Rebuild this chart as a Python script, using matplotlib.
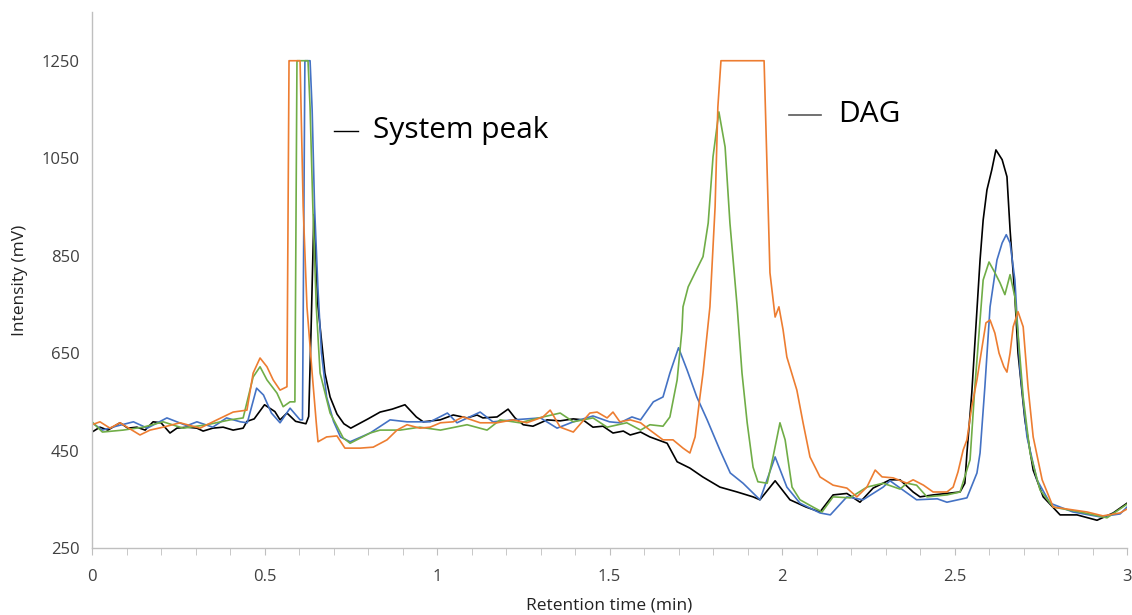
import matplotlib.pyplot as plt
from matplotlib.ticker import MultipleLocator

# Chromatogram traces (retention time in min, intensity in mV)
black_t = [0.00, 0.023, 0.046, 0.081, 0.104, 0.13, 0.154, 0.177, 0.20, 0.226, 0.246, 0.275,
           0.304, 0.322, 0.35, 0.38, 0.409, 0.438, 0.449, 0.47, 0.50, 0.53, 0.545, 0.565,
           0.59, 0.62, 0.628, 0.635, 0.643, 0.655, 0.675, 0.69, 0.71, 0.73, 0.75, 0.80,
           0.835, 0.87, 0.907, 0.94, 0.96, 1.009, 1.047, 1.087, 1.116, 1.133, 1.174, 1.206,
           1.226, 1.25, 1.278, 1.319, 1.357, 1.395, 1.423, 1.452, 1.481, 1.51, 1.54, 1.56,
           1.59, 1.617, 1.667, 1.696, 1.733, 1.77, 1.82, 1.87, 1.916, 1.936, 1.98, 2.023,
           2.07, 2.11, 2.148, 2.188, 2.226, 2.264, 2.313, 2.342, 2.38, 2.40, 2.438, 2.516,
           2.53, 2.536, 2.55, 2.574, 2.583, 2.594, 2.608, 2.62, 2.638, 2.652, 2.661, 2.675,
           2.684, 2.704, 2.728, 2.757, 2.806, 2.855, 2.913, 2.96, 3.00]
black_v = [488, 498, 492, 507, 496, 498, 492, 509, 507, 486, 496, 498,
           496, 490, 496, 498, 492, 496, 510, 515, 544, 530, 513, 527,
           510, 505, 520, 700, 934, 745, 609, 560, 525, 505, 496, 515,
           529, 535, 544, 519, 509, 513, 523, 517, 523, 517, 519, 535,
           517, 503, 500, 513, 511, 515, 513, 498, 500, 486, 490, 482,
           488, 478, 465, 427, 414, 396, 375, 365, 355, 349, 388, 349,
           334, 324, 359, 362, 344, 373, 390, 390, 365, 355, 359, 365,
           383, 445, 568, 841, 923, 985, 1026, 1067, 1047, 1012, 903, 765,
           650, 513, 410, 355, 318, 318, 307, 322, 342]

blue_t = [0.00, 0.03, 0.07, 0.12, 0.16, 0.217, 0.275, 0.304, 0.35, 0.39, 0.43, 0.45, 0.477,
          0.497, 0.52, 0.545, 0.574, 0.603, 0.61, 0.617, 0.62, 0.632, 0.638, 0.645, 0.655,
          0.665, 0.68, 0.70, 0.72, 0.748, 0.806, 0.864, 0.913, 0.95, 0.98, 1.03, 1.058, 1.125,
          1.162, 1.22, 1.30, 1.348, 1.395, 1.452, 1.50, 1.53, 1.565, 1.59, 1.627, 1.655, 1.675,
          1.70, 1.725, 1.753, 1.783, 1.82, 1.85, 1.887, 1.936, 1.98, 2.014, 2.052, 2.11, 2.14,
          2.188, 2.235, 2.293, 2.313, 2.39, 2.45, 2.478, 2.536, 2.565, 2.574, 2.588, 2.603,
          2.623, 2.638, 2.65, 2.661, 2.675, 2.69, 2.71, 2.739, 2.777, 2.843, 2.922, 2.98, 3.00]
blue_v = [507, 492, 500, 509, 496, 517, 501, 509, 498, 517, 509, 507, 578,
          564, 527, 507, 537, 513, 513, 1250, 1250, 1250, 1150, 950, 780,
          650, 560, 510, 478, 468, 486, 513, 509, 509, 509, 527, 507, 529,
          509, 513, 517, 496, 509, 521, 509, 507, 519, 513, 550, 560, 609,
          661, 615, 560, 513, 451, 404, 383, 349, 437, 375, 342, 322, 318,
          355, 349, 375, 388, 349, 351, 344, 353, 404, 445, 581, 745,
          841, 876, 893, 876, 800, 615, 478, 390, 342, 324, 314, 320, 334]

green_t = [0.00, 0.03, 0.09, 0.148, 0.206, 0.264, 0.333, 0.40, 0.438, 0.467, 0.487, 0.507,
           0.536, 0.554, 0.574, 0.588, 0.594, 0.597, 0.626, 0.632, 0.64, 0.65, 0.661, 0.69,
           0.728, 0.748, 0.806, 0.835, 0.893, 0.95, 1.01, 1.087, 1.145, 1.183, 1.24, 1.307,
           1.357, 1.395, 1.452, 1.493, 1.55, 1.59, 1.617, 1.655, 1.675, 1.696, 1.71, 1.713,
           1.728, 1.748, 1.771, 1.786, 1.80, 1.817, 1.835, 1.849, 1.87, 1.884, 1.899, 1.916,
           1.93, 1.957, 1.974, 1.994, 2.009, 2.029, 2.052, 2.09, 2.116, 2.148, 2.197, 2.246,
           2.293, 2.342, 2.362, 2.39, 2.42, 2.478, 2.516, 2.545, 2.559, 2.574, 2.583, 2.60,
           2.617, 2.632, 2.646, 2.661, 2.675, 2.684, 2.699, 2.719, 2.748, 2.786, 2.864, 2.942,
           3.00]
green_v = [509, 488, 492, 498, 509, 496, 503, 513, 517, 601, 622, 595,
           568, 540, 550, 550, 1250, 1250, 1250, 1155, 950, 745, 609, 527,
           476, 465, 486, 492, 492, 498, 492, 503, 492, 513, 507, 519,
           527, 509, 517, 498, 507, 492, 503, 500, 519, 595, 698, 745,
           786, 815, 848, 917, 1053, 1145, 1073, 917, 745, 609, 507, 416,
           386, 383, 437, 507, 472, 375, 349, 334, 324, 355, 353, 375,
           383, 371, 383, 379, 355, 359, 365, 431, 581, 718, 800, 837,
           815, 794, 770, 811, 765, 691, 560, 445, 369, 334, 324, 312,
           340]

orange_t = [0.00, 0.023, 0.052, 0.081, 0.139, 0.168, 0.206, 0.255, 0.313, 0.362, 0.409, 0.449,
            0.467, 0.487, 0.507, 0.525, 0.545, 0.565, 0.571, 0.574, 0.603, 0.612, 0.623, 0.638,
            0.65, 0.655, 0.68, 0.71, 0.733, 0.777, 0.815, 0.855, 0.884, 0.913, 0.95, 0.98,
            1.01, 1.047, 1.075, 1.125, 1.174, 1.22, 1.26, 1.307, 1.328, 1.357, 1.395, 1.443,
            1.464, 1.493, 1.51, 1.53, 1.56, 1.59, 1.617, 1.655, 1.684, 1.713, 1.733, 1.748,
            1.762, 1.771, 1.791, 1.806, 1.814, 1.823, 1.948, 1.957, 1.965, 1.98, 1.991, 2.003,
            2.014, 2.043, 2.061, 2.081, 2.11, 2.148, 2.188, 2.217, 2.246, 2.27, 2.29, 2.322,
            2.362, 2.38, 2.41, 2.438, 2.478, 2.496, 2.51, 2.525, 2.536, 2.55, 2.565, 2.58,
            2.591, 2.603, 2.617, 2.629, 2.643, 2.652, 2.661, 2.67, 2.684, 2.699, 2.713, 2.728,
            2.754, 2.786, 2.826, 2.884, 2.93, 2.98, 3.00]
orange_v = [503, 509, 496, 507, 482, 492, 498, 507, 496, 513, 529, 533,
            609, 640, 622, 595, 574, 581, 1250, 1250, 1250, 950, 745, 609,
            507, 468, 478, 480, 455, 455, 457, 472, 492, 503, 496, 498,
            507, 509, 519, 507, 507, 513, 507, 519, 533, 498, 488, 527,
            529, 517, 529, 509, 513, 507, 492, 472, 472, 455, 445, 478,
            560, 609, 745, 950, 1155, 1250, 1250, 1020, 815, 724, 745, 698,
            642, 574, 507, 437, 396, 379, 373, 355, 375, 410, 396, 394,
            383, 390, 379, 365, 365, 375, 406, 451, 472, 540, 595, 663,
            712, 718, 691, 650, 622, 611, 650, 704, 735, 704, 581, 478,
            390, 334, 330, 324, 316, 322, 330]

series = [
    (black_t, black_v, '#000000'),
    (blue_t, blue_v, '#4472C4'),
    (green_t, green_v, '#70AD47'),
    (orange_t, orange_v, '#ED7D31'),
]

y_ticks = [250, 450, 650, 850, 1050, 1250]
x_ticks = [0, 0.5, 1, 1.5, 2, 2.5, 3]
x_ticklabels = ['0', '0.5', '1', '1.5', '2', '2.5', '3']

plt.rcParams['font.family'] = ['Open Sans', 'DejaVu Sans']

fig = plt.figure(figsize=(11.32, 6.15), dpi=100)
ax = fig.add_axes([0.0813, 0.1089, 0.9143, 0.8716])

for t, v, c in series:
    ax.plot(t, v, color=c, lw=1.2)

ax.set_xlim(0, 3)
ax.set_ylim(250, 1350)

ax.set_yticks(y_ticks)
ax.tick_params(axis='y', length=0, labelsize=12, labelcolor='#404040', pad=9)
ax.set_xticks(x_ticks)
ax.set_xticklabels(x_ticklabels)
ax.xaxis.set_minor_locator(MultipleLocator(0.1))
ax.tick_params(axis='x', which='both', direction='out', length=5, color='#BFBFBF',
               labelsize=12, labelcolor='#404040', pad=10)

for side in ['top', 'right']:
    ax.spines[side].set_visible(False)
for side in ['left', 'bottom']:
    ax.spines[side].set_color('#BFBFBF')
    ax.spines[side].set_linewidth(1.0)

ax.set_xlabel('Retention time (min)', fontsize=12.5, color='#222222', labelpad=9)
ax.set_ylabel('Intensity (mV)', fontsize=12.5, color='#222222', labelpad=10)

# peak labels
ax.plot([0.234, 0.257], [0.778, 0.778], color='black', lw=1, transform=ax.transAxes)
ax.text(0.2715, 0.778, 'System peak', transform=ax.transAxes, fontsize=21.5,
        va='center', ha='left', color='black')
ax.plot([0.673, 0.704], [0.808, 0.808], color='#595959', lw=1.2, transform=ax.transAxes)
ax.text(0.721, 0.808, 'DAG', transform=ax.transAxes, fontsize=21.5,
        va='center', ha='left', color='black')

fig.savefig('out.png', dpi=100)
